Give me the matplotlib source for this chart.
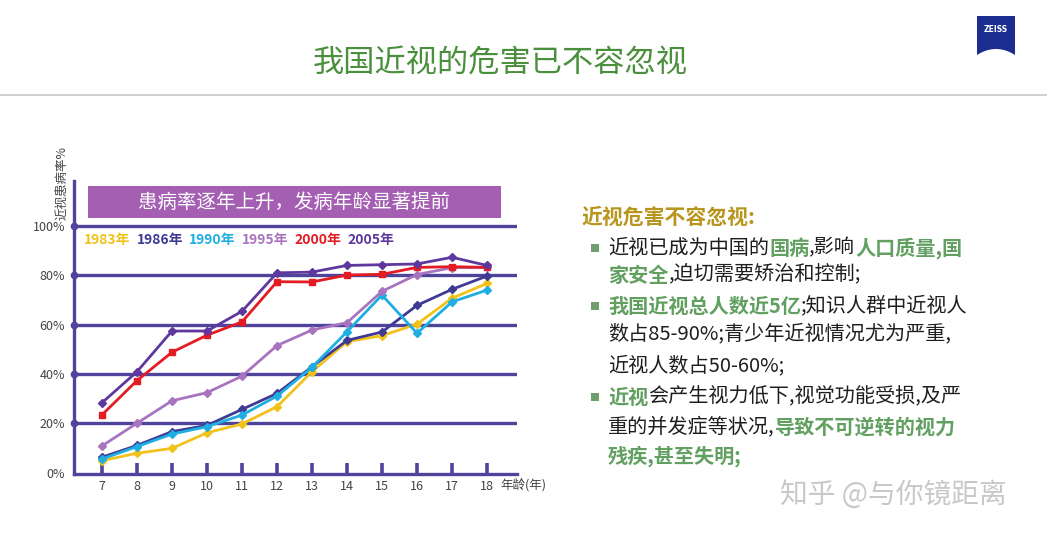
import matplotlib
matplotlib.use('Agg')
import matplotlib.pyplot as plt
from matplotlib.patches import Rectangle, Polygon
import numpy as np

plt.rcParams['font.family'] = ['Noto Sans CJK SC', 'DejaVu Sans']

# ---------------- data ----------------
ages = [7, 8, 9, 10, 11, 12, 13, 14, 15, 16, 17, 18]
y1983 = [4.8, 7.8, 9.8, 16.1, 19.7, 26.7, 40.9, 53.1, 55.5, 60.2, 70.7, 76.7]
y1986 = [6.2, 11.0, 16.6, 19.1, 25.6, 32.1, 42.9, 53.6, 57.0, 67.8, 74.3, 79.7]
y1990 = [5.5, 10.5, 15.6, 18.6, 23.3, 31.0, 42.7, 57.1, 72.0, 56.5, 69.2, 74.0]
y1995 = [10.8, 20.0, 29.1, 32.4, 39.1, 51.5, 57.8, 60.8, 73.5, 80.3, 83.1, 83.2]
y2000 = [23.4, 37.3, 48.8, 55.7, 61.1, 77.4, 77.3, 80.1, 80.4, 83.2, 83.5, 83.2]
y2005 = [28.3, 40.9, 57.4, 57.4, 65.4, 81.0, 81.3, 84.0, 84.3, 84.6, 87.3, 84.0]
series_labels = ['1983年', '1986年', '1990年', '1995年', '2000年', '2005年']
yticks = [0, 20, 40, 60, 80, 100]
ytick_labels = ['0%', '20%', '40%', '60%', '80%', '100%']

title = '我国近视的危害已不容忽视'
banner = '患病率逐年上升，发病年龄显著提前'
ylabel = '近视患病率%'
xlabel = '年龄(年)'
heading = '近视危害不容忽视:'
body_lines = [
    [('近视已成为中国的', 0), ('国病', 1), (',影响', 0), ('人口质量,国', 1)],
    [('家安全', 1), (',迫切需要矫治和控制;', 0)],
    [('我国近视总人数近5亿', 1), (';知识人群中近视人', 0)],
    [('数占85-90%;青少年近视情况尤为严重,', 0)],
    [('近视人数占50-60%;', 0)],
    [('近视', 1), ('会产生视力低下,视觉功能受损,及严', 0)],
    [('重的并发症等状况,', 0), ('导致不可逆转的视力', 1)],
    [('残疾,甚至失明;', 1)],
]
watermark = '知乎 @与你镜距离'

# ---------------- style ----------------
W, H = 1047, 540
AXC = '#4e449c'
colors = ['#f2c21b', '#3f3b94', '#1eaee2', '#a874c0', '#e31b23', '#5f389e']
markers = ['D', 'D', 'D', 'D', 's', 'D']
GREEN_T = '#4a8f3c'
GREEN_B = '#62a062'
GOLD = '#b8961e'

fig = plt.figure(figsize=(W / 100, H / 100), dpi=100)
fig.patch.set_facecolor('white')


def fx(x):
    return x / W


def fy(y):
    return 1 - y / H


# ---------------- header ----------------
fig.text(fx(500), fy(64), title, fontsize=22.5, color=GREEN_T, ha='center', va='center')
fig.add_artist(plt.Line2D([0, 1], [fy(95), fy(95)], color='#c9c9c9', lw=1.2,
                          transform=fig.transFigure))
# ZEISS logo
xs = np.linspace(977, 1015, 40)
bottom = 55 - 6 * (1 - ((xs - 996) / 19) ** 2)
pts = [(fx(977), fy(16)), (fx(1015), fy(16))] + [(fx(a), fy(b)) for a, b in zip(xs[::-1], bottom[::-1])]
fig.add_artist(Polygon(pts, closed=True, facecolor='#1b2d8f', edgecolor='none',
                       transform=fig.transFigure))
fig.text(fx(996), fy(29), 'ZEISS', fontsize=5.5, color='white', fontweight='bold',
         ha='center', va='center', family='DejaVu Sans')

# ---------------- chart ----------------
ax = fig.add_axes([fx(73.5), fy(474), (517 - 73.5) / W, (474 - 181) / H])
x_left = 7 - 28.5 / 35
x_right = 7 + (517 - 102) / 35
ax.set_xlim(x_left, x_right)
ax.set_ylim(-(474 - 472.5) / 2.465, (472.5 - 181) / 2.465)
for s in ['top', 'right']:
    ax.spines[s].set_visible(False)
for s in ['left', 'bottom']:
    ax.spines[s].set_color(AXC)
    ax.spines[s].set_linewidth(2.4)

for v in yticks[1:]:
    ax.axhline(v, color=AXC, lw=2.4, zorder=1)
    ax.plot([x_left], [v], 'o', color=AXC, ms=4.5, clip_on=False, zorder=3)

ax.set_yticks(yticks)
ax.set_yticklabels(ytick_labels)
ax.tick_params(axis='y', length=0, pad=6, labelsize=9, labelcolor='#444444')
ax.set_xticks(ages)
ax.set_xticklabels([str(a) for a in ages])
ax.tick_params(axis='x', direction='in', length=8, width=2.6, color=AXC, pad=4,
               labelsize=9, labelcolor='#444444')

all_series = [y1983, y1986, y1990, y1995, y2000, y2005]
for vals, c, m in zip(all_series, colors, markers):
    ax.plot(ages, vals, color=c, lw=2.0, marker=m, ms=4.2, zorder=4)

fig.text(fx(500), fy(485), xlabel, fontsize=9, color='#444444', ha='left', va='center')
fig.text(fx(62), fy(183), ylabel, fontsize=9, color='#444444', rotation=90,
         ha='center', va='center')

# banner
fig.add_artist(Rectangle((fx(88), fy(217.5)), (500.5 - 88) / W, 31 / H,
                         facecolor='#a45fb2', edgecolor='none', transform=fig.transFigure))
fig.text(fx(294), fy(202), banner, fontsize=14, color='white', ha='center', va='center')

# legend labels
leg_x = [84, 137, 189, 242, 294, 347]
for lx, lab, c in zip(leg_x, series_labels, colors):
    fig.text(fx(lx), fy(240), lab, fontsize=10, fontweight='bold', color=c,
             ha='left', va='center')

# ---------------- right text ----------------
fig.canvas.draw()
renderer = fig.canvas.get_renderer()

fig.text(fx(582), fy(217), heading, fontsize=15, fontweight='bold', color=GOLD,
         ha='left', va='center')

line_y = [248, 275, 306, 334, 366, 397, 427, 456]
bullet_lines = {0, 2, 5}
for i, (segs, yy) in enumerate(zip(body_lines, line_y)):
    if i in bullet_lines:
        fig.add_artist(Rectangle((fx(591), fy(yy + 4)), 8 / W, 8 / H,
                                 facecolor='#6e9e6e', edgecolor='none',
                                 transform=fig.transFigure))
    x = 608
    for s, st in segs:
        t = fig.text(fx(x), fy(yy), s, fontsize=14.5, ha='left', va='center',
                     color=GREEN_B if st else '#1e1e1e',
                     fontweight='bold' if st else 'normal')
        bb = t.get_window_extent(renderer)
        x += bb.width

# watermark
fig.text(fx(893), fy(495), watermark, fontsize=20, color='#c8c8c8',
         ha='center', va='center')

fig.savefig('out.png', dpi=100)
